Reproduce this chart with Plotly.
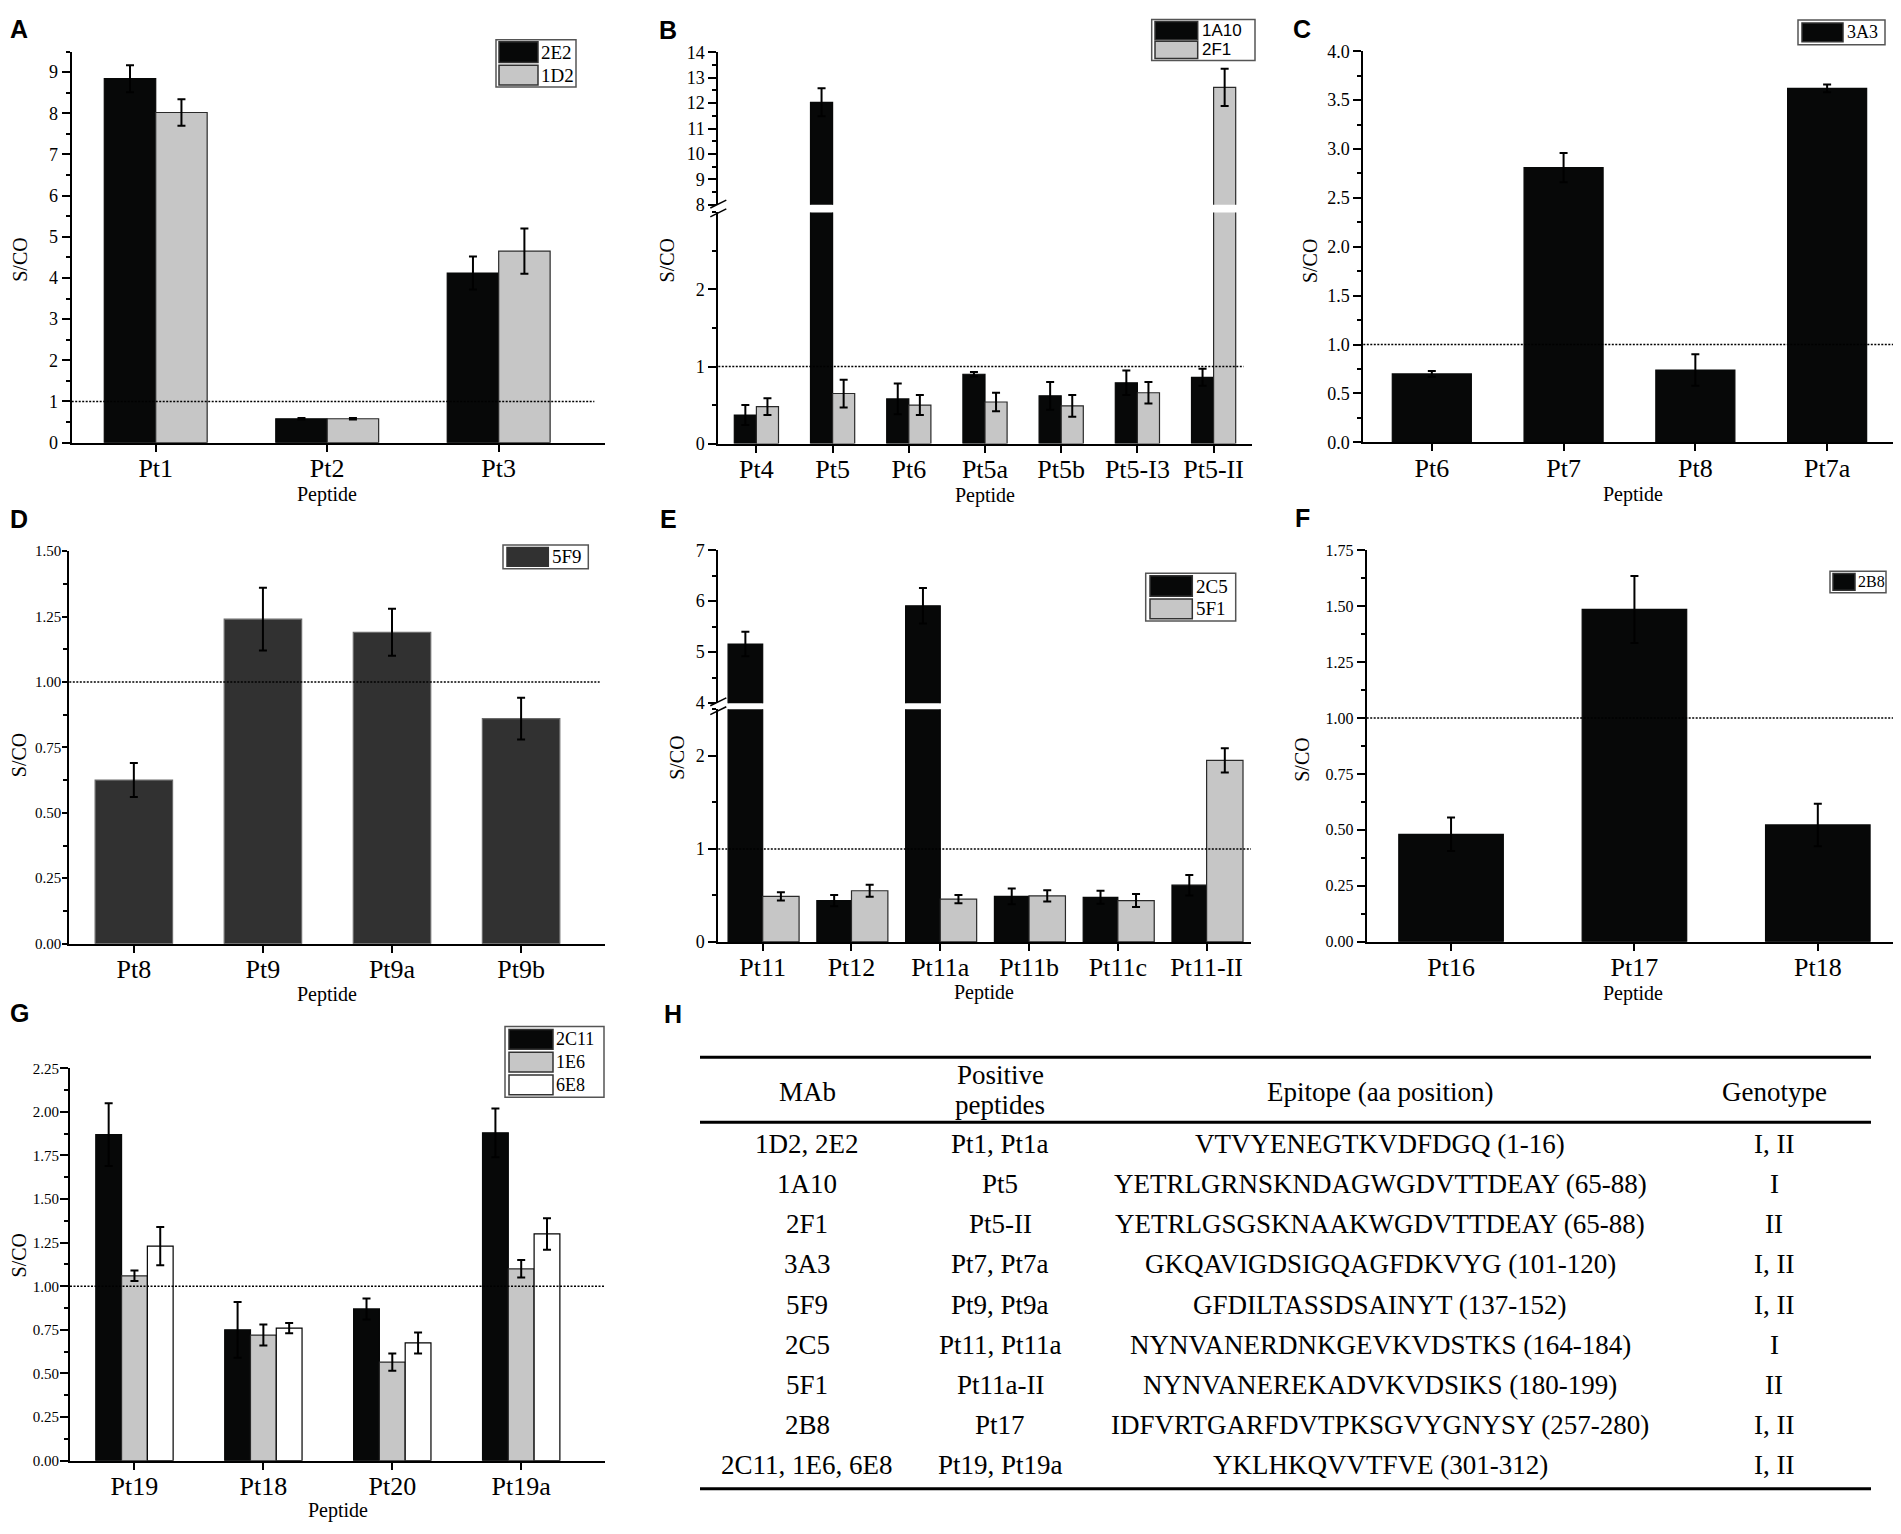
import plotly.graph_objects as go

# page body has an 8px margin, so the figure is made 16px smaller
OFF = 8
W, H = 1885, 1518
SERIF = "Liberation Serif"
SANS = "Liberation Sans"

BLACK = "#070808"
GRAY = "#c6c6c6"
DARK = "#313131"

# ---- Panel A ----
a_cats = ["Pt1", "Pt2", "Pt3"]
a_2e2 = [8.84, 0.58, 4.12]
a_2e2_err = [0.33, 0.02, 0.40]
a_1d2 = [8.02, 0.58, 4.65]
a_1d2_err = [0.32, 0.02, 0.55]

# ---- Panel B (broken axis) ----
b_cats = ["Pt4", "Pt5", "Pt6", "Pt5a", "Pt5b", "Pt5-I3", "Pt5-II"]
b_1a10 = [0.37, 12.03, 0.58, 0.90, 0.62, 0.79, 0.86]
b_1a10_err = [0.13, 0.55, 0.20, 0.03, 0.18, 0.16, 0.11]
b_2f1 = [0.48, 0.65, 0.50, 0.54, 0.49, 0.66, 12.62]
b_2f1_err = [0.11, 0.18, 0.13, 0.12, 0.14, 0.14, 0.73]

# ---- Panel C ----
c_cats = ["Pt6", "Pt7", "Pt8", "Pt7a"]
c_3a3 = [0.70, 2.81, 0.74, 3.62]
c_3a3_err = [0.03, 0.15, 0.16, 0.04]

# ---- Panel D ----
d_cats = ["Pt8", "Pt9", "Pt9a", "Pt9b"]
d_5f9 = [0.625, 1.24, 1.19, 0.86]
d_5f9_err = [0.065, 0.12, 0.09, 0.08]

# ---- Panel E (broken axis) ----
e_cats = ["Pt11", "Pt12", "Pt11a", "Pt11b", "Pt11c", "Pt11-II"]
e_2c5 = [5.16, 0.445, 5.91, 0.49, 0.48, 0.61]
e_2c5_err = [0.24, 0.06, 0.35, 0.085, 0.07, 0.11]
e_5f1 = [0.49, 0.55, 0.46, 0.495, 0.445, 1.95]
e_5f1_err = [0.045, 0.065, 0.045, 0.06, 0.07, 0.13]

# ---- Panel F ----
f_cats = ["Pt16", "Pt17", "Pt18"]
f_2b8 = [0.48, 1.485, 0.522]
f_2b8_err = [0.075, 0.15, 0.095]

# ---- Panel G ----
g_cats = ["Pt19", "Pt18", "Pt20", "Pt19a"]
g_2c11 = [1.87, 0.75, 0.87, 1.88]
g_2c11_err = [0.18, 0.16, 0.06, 0.14]
g_1e6 = [1.06, 0.72, 0.565, 1.10]
g_1e6_err = [0.03, 0.06, 0.05, 0.05]
g_6e8 = [1.23, 0.76, 0.675, 1.30]
g_6e8_err = [0.11, 0.03, 0.06, 0.09]

# ---- Panel H table ----
tbl_mab = ["1D2, 2E2", "1A10", "2F1", "3A3", "5F9", "2C5", "5F1", "2B8", "2C11, 1E6, 6E8"]
tbl_pep = ["Pt1, Pt1a", "Pt5", "Pt5-II", "Pt7, Pt7a", "Pt9, Pt9a", "Pt11, Pt11a",
           "Pt11a-II", "Pt17", "Pt19, Pt19a"]
tbl_epi = ["VTVYENEGTKVDFDGQ (1-16)", "YETRLGRNSKNDAGWGDVTTDEAY (65-88)",
           "YETRLGSGSKNAAKWGDVTTDEAY (65-88)", "GKQAVIGDSIGQAGFDKVYG (101-120)",
           "GFDILTASSDSAINYT (137-152)", "NYNVANERDNKGEVKVDSTKS (164-184)",
           "NYNVANEREKADVKVDSIKS (180-199)", "IDFVRTGARFDVTPKSGVYGNYSY (257-280)",
           "YKLHKQVVTFVE (301-312)"]
tbl_geno = ["I, II", "I", "II", "I, II", "I, II", "I", "II", "I, II", "I, II"]


def fx(p):
    return (p - OFF) / W


def fy(p):
    return 1 - (p - OFF) / H


def cat_axis(x0, x1, cats, rng, anchor, show=True, size=26):
    return dict(domain=[fx(x0), min(fx(x1), 1.0)], type="category", categoryorder="array",
                categoryarray=cats, range=rng, anchor=anchor, visible=show,
                showline=True, linecolor="black", linewidth=2,
                ticks="outside", ticklen=7, tickwidth=1.5, tickcolor="black",
                tickfont=dict(family=SERIF, size=size, color="black"),
                showgrid=False, zeroline=False)


def val_axis(bottom, top, rng, anchor, dtick, minor, fmt, size=18, tickvals=None, tlen=8, mlen=4):
    ax = dict(domain=[fy(bottom), fy(top)], range=rng, anchor=anchor,
              showline=True, linecolor="black", linewidth=2,
              ticks="outside", ticklen=tlen, tickwidth=1.5, tickcolor="black",
              tickformat=fmt, tickfont=dict(family=SERIF, size=size, color="black"),
              showgrid=False, zeroline=False,
              minor=dict(ticks="outside", ticklen=mlen, tickwidth=1.5, tickcolor="black",
                         dtick=minor, tick0=0, showgrid=False))
    if tickvals is not None:
        ax["tickmode"] = "array"
        ax["tickvals"] = tickvals
    else:
        ax["dtick"] = dtick
        ax["tick0"] = 0
    return ax


def bar(cats, vals, errs, fill, outline, width, offset, xa, ya):
    return go.Bar(x=cats, y=vals, width=width, offset=offset, xaxis=xa, yaxis=ya,
                  marker=dict(color=fill, line=dict(color=outline, width=1.2)),
                  error_y=dict(type="data", array=errs, color="black", thickness=2, width=4),
                  showlegend=False, hoverinfo="x+y")


fig = go.Figure()

# A
fig.add_trace(bar(a_cats, a_2e2, a_2e2_err, BLACK, BLACK, 0.3, -0.3, "x", "y"))
fig.add_trace(bar(a_cats, a_1d2, a_1d2_err, GRAY, "#2a2a2a", 0.3, 0.0, "x", "y"))
# B lower / upper
for xa, ya in [("x2", "y2"), ("x3", "y3")]:
    fig.add_trace(bar(b_cats, b_1a10, b_1a10_err, BLACK, BLACK, 0.29, -0.29, xa, ya))
    fig.add_trace(bar(b_cats, b_2f1, b_2f1_err, GRAY, "#2a2a2a", 0.29, 0.0, xa, ya))
# C
fig.add_trace(bar(c_cats, c_3a3, c_3a3_err, BLACK, BLACK, 0.6, -0.3, "x4", "y4"))
# D
fig.add_trace(bar(d_cats, d_5f9, d_5f9_err, DARK, "#6a6a6a", 0.6, -0.3, "x5", "y5"))
# E lower / upper
for xa, ya in [("x6", "y6"), ("x7", "y7")]:
    fig.add_trace(bar(e_cats, e_2c5, e_2c5_err, BLACK, BLACK, 0.39, -0.39, xa, ya))
    fig.add_trace(bar(e_cats, e_5f1, e_5f1_err, GRAY, "#2a2a2a", 0.41, 0.0, xa, ya))
# F
fig.add_trace(bar(f_cats, f_2b8, f_2b8_err, BLACK, BLACK, 0.57, -0.285, "x8", "y8"))
# G
fig.add_trace(bar(g_cats, g_2c11, g_2c11_err, BLACK, BLACK, 0.2, -0.3, "x9", "y9"))
fig.add_trace(bar(g_cats, g_1e6, g_1e6_err, GRAY, "#2a2a2a", 0.2, -0.1, "x9", "y9"))
fig.add_trace(bar(g_cats, g_6e8, g_6e8_err, "white", "black", 0.2, 0.1, "x9", "y9"))

layout = dict(
    width=W, height=H, margin=dict(l=0, r=0, t=0, b=0), autosize=False,
    paper_bgcolor="white", plot_bgcolor="white", barmode="overlay",
    font=dict(family=SERIF, color="black"),
    xaxis=cat_axis(71.7, 605, a_cats, [-0.49, 2.62], "y"),
    yaxis=val_axis(438.3, 42.0, [0, 9.5], "x", 1, 0.5, "d"),
    xaxis2=cat_axis(718.3, 1251.7, b_cats, [-0.5, 6.5], "y2"),
    yaxis2=val_axis(439.3, 205.0, [0, 3], "x2", None, 0.5, "d", tickvals=[0, 1, 2]),
    xaxis3=cat_axis(718.3, 1251.7, b_cats, [-0.5, 6.5], "y3", show=False),
    yaxis3=val_axis(197.3, 42.7, [8, 14], "x3", 1, 0.5, "d"),
    xaxis4=cat_axis(1363.3, 1900, c_cats, [-0.52, 3.5], "y4"),
    yaxis4=val_axis(438.0, 41.7, [0, 4], "x4", 0.5, 0.25, ".1f", size=18),
    xaxis5=cat_axis(69.3, 605, d_cats, [-0.5, 3.65], "y5"),
    yaxis5=val_axis(946.0, 548.3, [0, 1.5], "x5", 0.25, 0.125, ".2f", size=15, tlen=5, mlen=4),
    xaxis6=cat_axis(718.3, 1251, e_cats, [-0.5, 5.5], "y6"),
    yaxis6=val_axis(944.3, 708.5, [0, 2.5], "x6", 1, 0.5, "d"),
    xaxis7=cat_axis(718.3, 1251, e_cats, [-0.5, 5.5], "y7", show=False),
    yaxis7=val_axis(702.3, 547.3, [4, 7], "x7", 1, 0.5, "d"),
    xaxis8=cat_axis(1366.7, 1900, f_cats, [-0.46, 2.41], "y8"),
    yaxis8=val_axis(944.0, 547.3, [0, 1.75], "x8", 0.25, 0.125, ".2f", size=16),
    xaxis9=cat_axis(70, 605, g_cats, [-0.5, 3.65], "y9"),
    yaxis9=val_axis(1469.9, 1072.3, [0, 2.25], "x9", 0.25, 0.125, ".2f", size=15),
)
fig.update_layout(**layout)

shapes = []
annotations = []

# cut-off lines at S/CO = 1
for xr, yr, x1 in [("x", "y", 0.98), ("x2", "y2", 0.985), ("x4", "y4", 1.0),
                   ("x5", "y5", 0.99), ("x6", "y6", 1.0), ("x8", "y8", 1.0),
                   ("x9", "y9", 1.0)]:
    shapes.append(dict(type="line", xref=xr + " domain", yref=yr, x0=0, x1=x1, y0=1, y1=1,
                       line=dict(color="black", width=1.5, dash="2px,1.5px"), layer="above"))

# axis break marks
for ax_x, gap_y in [(718.3, 201.0), (718.3, 705.4)]:
    for dy in (-4.5, 4.5):
        shapes.append(dict(type="line", xref="paper", yref="paper",
                           x0=fx(ax_x - 8), y0=fy(gap_y + dy + 4), x1=fx(ax_x + 8), y1=fy(gap_y + dy - 4),
                           line=dict(color="black", width=1.5)))


def add_legend(box, sw_x, text_x, rows, family, size):
    x0, y0, x1, y1 = box
    shapes.append(dict(type="rect", xref="paper", yref="paper", x0=fx(x0), x1=fx(x1),
                       y0=fy(y1), y1=fy(y0), fillcolor="white",
                       line=dict(color="#555555", width=1.5)))
    for name, fill, outline, top, bottom in rows:
        shapes.append(dict(type="rect", xref="paper", yref="paper", x0=fx(sw_x[0]), x1=fx(sw_x[1]),
                           y0=fy(bottom), y1=fy(top), fillcolor=fill,
                           line=dict(color=outline, width=1.5)))
        annotations.append(dict(xref="paper", yref="paper", x=fx(text_x), y=fy((top + bottom) / 2),
                                text=name, showarrow=False, xanchor="left", yanchor="middle",
                                borderpad=0, font=dict(family=family, size=size, color="black")))


add_legend((496, 30, 576, 78), (499, 538), 540,
           [("2E2", BLACK, "#333", 32, 53), ("1D2", GRAY, "#333", 56, 76)], SERIF, 19)
add_legend((1151.7, 9.5, 1255, 51), (1155, 1197.7), 1201,
           [("1A10", BLACK, "#333", 11.5, 30), ("2F1", GRAY, "#333", 31.5, 49)], SANS, 17)
add_legend((1798, 10, 1885, 35), (1802, 1843), 1846,
           [("3A3", BLACK, "#333", 13, 32)], SERIF, 18)
add_legend((503, 542, 588.3, 566), (507, 548.3), 551,
           [("5F9", DARK, "#333", 544.5, 563.5)], SERIF, 19)
add_legend((1145.7, 570.7, 1235.7, 619), (1150, 1192.3), 1195,
           [("2C5", BLACK, "#333", 573.3, 594), ("5F1", GRAY, "#333", 596.7, 616.7)], SERIF, 19)
add_legend((1830, 568.6, 1886, 590.4), (1833, 1855), 1857,
           [("2B8", BLACK, "#333", 571, 588)], SERIF, 16)
add_legend((505, 1030, 604, 1101.7), (509, 553), 555,
           [("2C11", BLACK, "#333", 1033, 1053), ("1E6", GRAY, "#333", 1056, 1076),
            ("6E8", "white", "#333", 1079, 1099)], SERIF, 18)

# panel letters
for letter, px, py in [("A", 9, 19), ("B", 658, 20), ("C", 1292, 19), ("D", 9, 516),
                       ("E", 659, 516), ("F", 1294, 515), ("G", 9, 1016), ("H", 663, 1017)]:
    annotations.append(dict(xref="paper", yref="paper", x=fx(px), y=fy(py), text="<b>" + letter + "</b>",
                            showarrow=False, xanchor="left", yanchor="middle", borderpad=0,
                            font=dict(family=SANS, size=25, color="black")))

# S/CO titles
for px, py in [(20, 253), (666.7, 254), (1309.3, 254), (19, 755), (676.7, 758),
               (1301.7, 760), (19, 1262)]:
    annotations.append(dict(xref="paper", yref="paper", x=fx(px), y=fy(py), text="S/CO",
                            textangle=-90, showarrow=False, xanchor="center", yanchor="middle",
                            font=dict(family=SERIF, size=20, color="black")))

# Peptide titles
for px, py in [(326.7, 491), (985, 492), (1633, 491), (326.7, 998), (984, 996),
               (1633, 997), (337.5, 1520)]:
    annotations.append(dict(xref="paper", yref="paper", x=fx(px), y=fy(py), text="Peptide",
                            showarrow=False, xanchor="center", yanchor="middle",
                            font=dict(family=SERIF, size=20, color="black")))

# ---- table H ----
tx0, tx1 = 700, 1871
for ly in (1061, 1127, 1498.5):
    shapes.append(dict(type="line", xref="paper", yref="paper", x0=fx(tx0), x1=fx(tx1),
                       y0=fy(ly), y1=fy(ly), line=dict(color="black", width=3)))

col_x = [807, 1000, 1380, 1774]
tfont = dict(family=SERIF, size=27, color="black")
for cx, txt, ty in [(col_x[0], "MAb", 1096), (col_x[1], "Positive", 1079), (col_x[1], "peptides", 1110),
                    (col_x[2], "Epitope (aa position)", 1096), (col_x[3], "Genotype", 1096)]:
    annotations.append(dict(xref="paper", yref="paper", x=fx(cx), y=fy(ty), text=txt,
                            showarrow=False, xanchor="center", yanchor="middle", font=tfont))

row_y0, row_dy = 1149, 40.7
for i in range(len(tbl_mab)):
    ry = row_y0 + i * row_dy
    for cx, txt in zip(col_x, [tbl_mab[i], tbl_pep[i], tbl_epi[i], tbl_geno[i]]):
        annotations.append(dict(xref="paper", yref="paper", x=fx(cx), y=fy(ry), text=txt,
                                showarrow=False, xanchor="center", yanchor="middle", font=tfont))

fig.update_layout(shapes=shapes, annotations=annotations)

# pull tick labels a little closer to the axis lines
for name in ["xaxis", "xaxis2", "xaxis4", "xaxis5", "xaxis6", "xaxis8", "xaxis9"]:
    try:
        fig.layout[name].ticklabelstandoff = -6
    except ValueError:
        pass
for name in ["yaxis5", "yaxis9"]:
    try:
        fig.layout[name].ticklabelstandoff = -2
    except ValueError:
        pass

fig.write_html("out.html")
